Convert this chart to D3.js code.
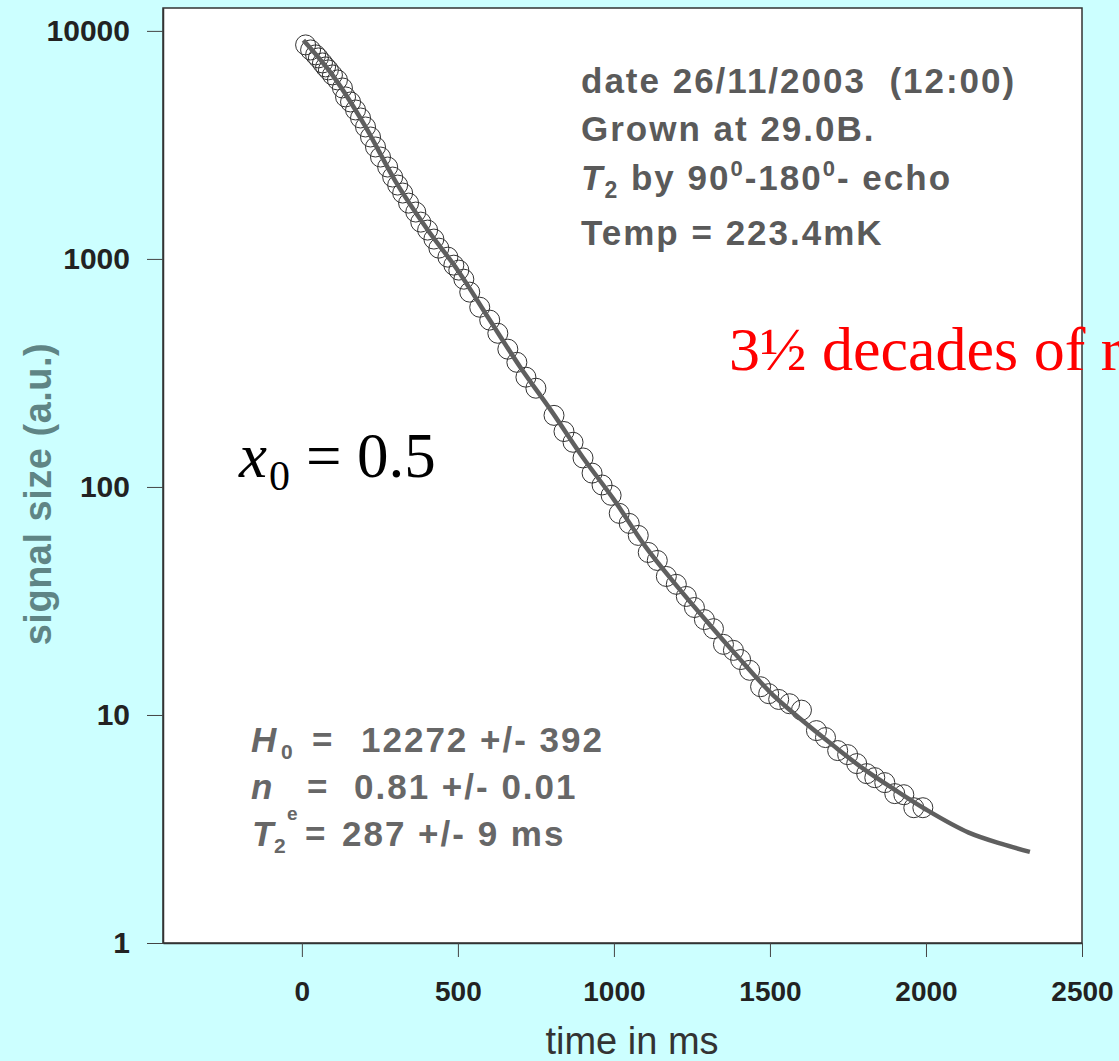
<!DOCTYPE html>
<html>
<head>
<meta charset="utf-8">
<script src="https://cdn.jsdelivr.net/npm/d3@7"></script>
<style>
  html, body { margin: 0; padding: 0; background: #ccffff; overflow: hidden; }
  svg { display: block; }
</style>
</head>
<body>
<svg id="chart" width="1119" height="1061"></svg>
<script>
// ---- data ----
const timeMs = [12,28,44,53,66,76,85,98,114,130,
  140,156,172,188,204,220,236,252,275,291,
  307,323,342,365,381,403,423,439,468,487,
  503,519,538,570,602,628,660,689,718,750,
  808,840,869,901,930,962,991,1017,1049,1078,
  1110,1139,1168,1200,1232,1258,1290,1319,1351,1383,
  1406,1435,1470,1496,1528,1563,1601,1649,1678,1717,
  1749,1778,1810,1836,1868,1900,1929,1961,1990];
const signal = [8680,8250,7850,7610,7235,6950,6745,6410,6095,5620,
  5133,4879,4500,4150,3790,3425,3096,2798,2529,2286,
  2108,1945,1757,1605,1450,1338,1222,1115,1018,939,
  893,815,715,614,539,472,402,352,303,271,
  206,175,157,134,115,102,91.9,76.6,69.2,61.3,
  51.6,47.6,40.5,37.4,33.1,29.6,26.2,23.9,20.4,19.2,
  17.5,15.7,13.3,12.4,11.7,11.2,10.5,8.54,7.96,6.98,
  6.70,6.12,5.53,5.31,5.05,4.52,4.47,3.92,3.92];
const fitTime = [5,100,200,300,400,500,600,700,800,900,1000,1100,1200,1300,1400,1500,1600,1700,1800,1900,2000,2137,2243,2333];
const fitSignal = [9100,6350,3880,2190,1360,890,545,335,215,135,88,55,37,25.5,17.8,12.6,9.55,7.4,5.8,4.7,3.85,3.05,2.72,2.51];
const xTicks = [0,500,1000,1500,2000,2500];
const yTicks = [1,10,100,1000,10000];
const xDomain = [-445, 2500];
const yDomain = [1, 12600];

// ---- layout ----
const L = 163, R = 1082, T = 8, B = 943;
const SANS = "'Liberation Sans', Arial, Helvetica, sans-serif";
const SERIF = "'Liberation Serif', 'Times New Roman', Times, serif";

const svg = d3.select("#chart");
const x = d3.scaleLinear().domain(xDomain).range([L, R]);
const y = d3.scaleLog().domain(yDomain).range([B, T]);

// plot area
svg.append("rect").attr("x", L).attr("y", T).attr("width", R - L).attr("height", B - T)
  .attr("fill", "#ffffff").attr("stroke", "#333").attr("stroke-width", 1.5);

// axes
const xAxis = svg.append("g").attr("transform", `translate(0,${B})`)
  .call(d3.axisBottom(x).tickValues(xTicks).tickFormat(d3.format("d")).tickSize(14).tickPadding(24).tickSizeOuter(0));
xAxis.select(".domain").attr("stroke", "#333").attr("stroke-width", 1.5);
xAxis.selectAll(".tick line").attr("stroke", "#444").attr("stroke-width", 1);
xAxis.selectAll(".tick text").attr("font-family", SANS).attr("font-size", 28)
  .attr("font-weight", "bold").attr("fill", "#222");

const yAxis = svg.append("g").attr("transform", `translate(${L},0)`)
  .call(d3.axisLeft(y).tickValues(yTicks).tickFormat(d3.format("d")).tickSize(16).tickPadding(17).tickSizeOuter(0));
yAxis.select(".domain").attr("stroke", "#333").attr("stroke-width", 1.5);
yAxis.selectAll(".tick line").attr("stroke", "#444").attr("stroke-width", 1);
yAxis.selectAll(".tick text").attr("font-family", SANS).attr("font-size", 30)
  .attr("font-weight", "bold").attr("fill", "#222");

// axis titles
svg.append("text").attr("x", 632).attr("y", 1054).attr("text-anchor", "middle")
  .attr("font-family", SANS).attr("font-size", 38).attr("fill", "#333").text("time in ms");
svg.append("text").attr("transform", "translate(51,494) rotate(-90)").attr("text-anchor", "middle")
  .attr("font-family", SANS).attr("font-size", 38).attr("font-weight", "bold")
  .attr("letter-spacing", 0.5).attr("fill", "#5f8585").text("signal size (a.u.)");

// data points
const pts = timeMs.map((t, i) => ({ t, v: signal[i] }));
svg.append("g").selectAll("circle").data(pts).join("circle")
  .attr("cx", d => x(d.t)).attr("cy", d => y(d.v)).attr("r", 10)
  .attr("fill", "none").attr("stroke", "#333").attr("stroke-width", 1);

// fit curve
const fit = fitTime.map((t, i) => ({ t, v: fitSignal[i] }));
svg.append("path").datum(fit)
  .attr("d", d3.line().x(d => x(d.t)).y(d => y(d.v)).curve(d3.curveMonotoneX))
  .attr("fill", "none").attr("stroke", "#5f5f5f").attr("stroke-width", 4.5);

// ---- annotations ----
const info = svg.append("g").attr("font-family", SANS).attr("font-weight", "bold")
  .attr("font-size", 35).attr("fill", "#5a5a5a").attr("letter-spacing", 2);
info.append("text").attr("x", 581).attr("y", 93).attr("xml:space", "preserve").text("date 26/11/2003  (12:00)");
info.append("text").attr("x", 581).attr("y", 141).text("Grown at 29.0B.");
const l3 = info.append("text").attr("x", 581).attr("y", 190);
l3.append("tspan").attr("font-style", "italic").text("T");
l3.append("tspan").attr("font-size", 23).attr("dy", 8).text("2");
l3.append("tspan").attr("dy", -8).text(" by 90");
l3.append("tspan").attr("font-size", 22).attr("dy", -14).text("0");
l3.append("tspan").attr("dy", 14).text("-180");
l3.append("tspan").attr("font-size", 22).attr("dy", -14).text("0");
l3.append("tspan").attr("dy", 14).text("- echo");
info.append("text").attr("x", 581).attr("y", 245).text("Temp = 223.4mK");

const par = svg.append("g").attr("font-family", SANS).attr("font-weight", "bold")
  .attr("font-size", 35).attr("fill", "#676767").attr("letter-spacing", 2);
// H0
par.append("text").attr("x", 251).attr("y", 752).attr("font-style", "italic").text("H");
par.append("text").attr("x", 281).attr("y", 759).attr("font-size", 21).attr("letter-spacing", 0).text("0");
par.append("text").attr("x", 312).attr("y", 752).text("=");
par.append("text").attr("x", 361).attr("y", 752).text("12272 +/- 392");
// n
par.append("text").attr("x", 251).attr("y", 799).attr("font-style", "italic").text("n");
par.append("text").attr("x", 307).attr("y", 799).text("=");
par.append("text").attr("x", 354).attr("y", 799).text("0.81 +/- 0.01");
// T2e
par.append("text").attr("x", 252).attr("y", 846).attr("font-style", "italic").text("T");
par.append("text").attr("x", 274).attr("y", 853).attr("font-size", 21).attr("letter-spacing", 0).text("2");
par.append("text").attr("x", 287).attr("y", 820).attr("font-size", 19).attr("letter-spacing", 0).text("e");
par.append("text").attr("x", 305).attr("y", 846).text("=");
par.append("text").attr("x", 342).attr("y", 846).text("287 +/- 9 ms");

// x0 = 0.5
const x0 = svg.append("g").attr("font-family", SERIF).attr("fill", "#000");
x0.append("text").attr("x", 239).attr("y", 477).attr("font-size", 63).attr("font-style", "italic").text("x");
x0.append("text").attr("x", 269).attr("y", 490).attr("font-size", 42).text("0");
x0.append("text").attr("x", 306).attr("y", 477).attr("font-size", 63).text("=");
x0.append("text").attr("x", 357).attr("y", 477).attr("font-size", 63).text("0.5");

// red note (runs off the page as in the reference)
svg.append("text").attr("x", 729).attr("y", 370).attr("font-family", SERIF)
  .attr("font-size", 62).attr("fill", "#ff0000").text("3½ decades of relaxation");
</script>
</body>
</html>
